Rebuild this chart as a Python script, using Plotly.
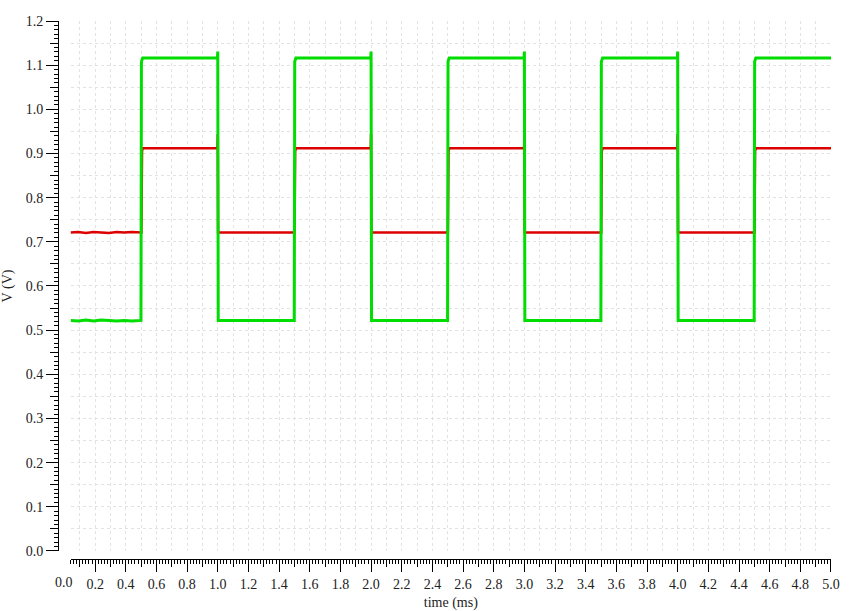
"""Square-wave transient plot"""

import plotly.graph_objects as go

# green trace (output)
green_t = [0.04, 0.09, 0.14, 0.19, 0.24, 0.29, 0.34, 0.39, 0.44, 0.499,
           0.502, 0.51, 0.998, 1.0, 1.003,
           1.499, 1.502, 1.51, 1.998, 2.0, 2.003,
           2.499, 2.502, 2.51, 2.998, 3.0, 3.003,
           3.499, 3.502, 3.51, 3.998, 4.0, 4.003,
           4.499, 4.502, 4.51, 5.0]
green_v = [0.522, 0.521, 0.523, 0.521, 0.523, 0.522, 0.521, 0.522, 0.521, 0.522,
           1.108, 1.116, 1.116, 1.131, 0.522,
           0.522, 1.108, 1.116, 1.116, 1.131, 0.522,
           0.522, 1.108, 1.116, 1.116, 1.131, 0.522,
           0.522, 1.108, 1.116, 1.116, 1.131, 0.522,
           0.522, 1.108, 1.116, 1.116]

# red trace (input)
red_t = [0.04, 0.09, 0.14, 0.19, 0.24, 0.29, 0.34, 0.39, 0.44, 0.502,
         0.506, 0.51, 0.998, 1.0, 1.002,
         1.501, 1.505, 1.51, 1.998, 2.0, 2.002,
         2.501, 2.505, 2.51, 2.998, 3.0, 3.002,
         3.501, 3.505, 3.51, 3.998, 4.0, 4.002,
         4.501, 4.505, 4.51, 5.0]
red_v = [0.721, 0.722, 0.720, 0.722, 0.721, 0.720, 0.722, 0.721, 0.722, 0.721,
         0.905, 0.912, 0.912, 0.944, 0.721,
         0.721, 0.905, 0.912, 0.912, 0.944, 0.721,
         0.721, 0.905, 0.912, 0.912, 0.944, 0.721,
         0.721, 0.905, 0.912, 0.912, 0.944, 0.721,
         0.721, 0.905, 0.912, 0.912]

x_range = [0.04, 5.0]
y_range = [0.0, 1.2]

FONT = "Liberation Serif, Times New Roman, DejaVu Serif, serif"
GRID = "#e2e2e2"

fig = go.Figure()

fig.add_trace(go.Scatter(
    x=red_t, y=red_v, mode='lines',
    line=dict(color='#dd0000', width=2.5),
    showlegend=False,
))

fig.add_trace(go.Scatter(
    x=green_t, y=green_v, mode='lines',
    line=dict(color='#00dd00', width=3),
    showlegend=False,
))

# 細かい目盛り用の重ね軸
fig.add_trace(go.Scatter(x=[], y=[], xaxis='x2', yaxis='y2', showlegend=False))

fig.update_layout(
    width=858, height=611,
    margin=dict(l=58, r=27, t=21, b=52, autoexpand=False),
    plot_bgcolor='white',
    paper_bgcolor='white',
    font=dict(family=FONT, size=14, color='#222222'),
    xaxis=dict(
        range=x_range, domain=[0.0163, 1], anchor='free', position=0,
        automargin=False,
        tick0=0, dtick=0.2, tickformat='.1f',
        ticks='outside', ticklen=12, tickcolor='black',
        showline=True, linecolor='black', linewidth=1,
        showgrid=True, gridcolor=GRID, griddash='dot', gridwidth=1,
        zeroline=False,
        minor=dict(dtick=0.1, ticks='outside', ticklen=7, tickcolor='black',
                   showgrid=True, gridcolor=GRID, griddash='dot'),
        title=dict(text='time (ms)', font=dict(size=14)),
    ),
    yaxis=dict(
        range=y_range, domain=[0.0149, 1], anchor='free', position=0,
        automargin=False,
        tick0=0, dtick=0.1, tickformat='.1f',
        ticks='outside', ticklen=12, tickcolor='black',
        showline=True, linecolor='black', linewidth=1,
        showgrid=True, gridcolor=GRID, griddash='dot', gridwidth=1,
        zeroline=False,
        minor=dict(dtick=0.05, ticks='outside', ticklen=8, tickcolor='black',
                   showgrid=True, gridcolor=GRID, griddash='dot'),
        title=dict(text='V (V)', font=dict(size=14)),
    ),
    xaxis2=dict(
        range=x_range, overlaying='x', anchor='free', position=0,
        automargin=False,
        tick0=0, dtick=0.02, ticks='outside', ticklen=4, tickcolor='black',
        showticklabels=False, showgrid=False, showline=False, zeroline=False,
    ),
    yaxis2=dict(
        range=y_range, overlaying='y', anchor='free', position=0, side='left',
        automargin=False,
        tick0=0, dtick=0.01, ticks='outside', ticklen=4, tickcolor='black',
        showticklabels=False, showgrid=False, showline=False, zeroline=False,
    ),
)

# 0.0 のラベル（軸は 0.04 から始まる）
fig.add_annotation(
    x=0.0084, xref='paper', y=-0.0446, yref='paper',
    text='0.0', showarrow=False, yanchor='middle', xanchor='center',
    font=dict(family=FONT, size=14, color='#222222'),
)

fig.write_html("out.html", config={'displayModeBar': False},
               post_script="document.body.style.margin='0';")
